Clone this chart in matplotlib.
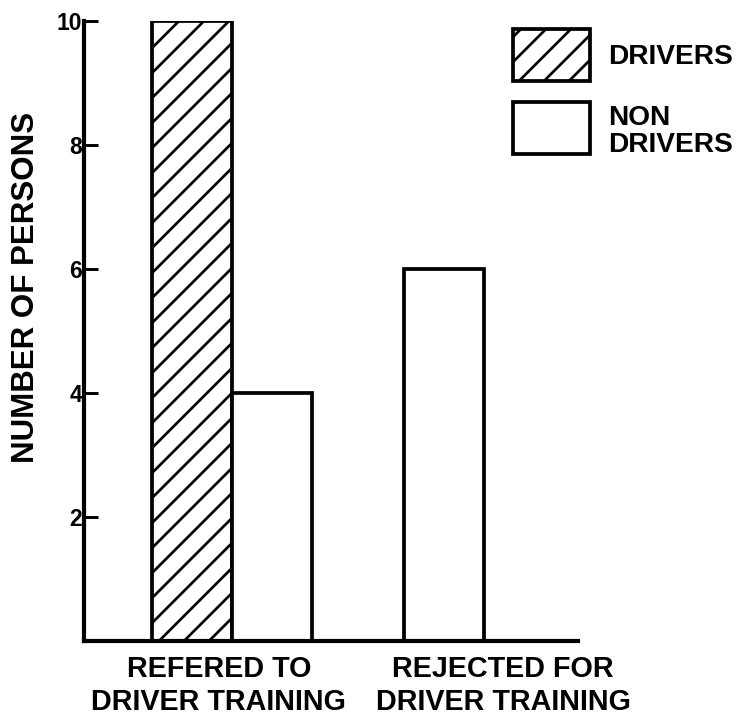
import matplotlib
matplotlib.use("Agg")
import matplotlib.pyplot as plt
import numpy as np

categories = ["REFERED TO\nDRIVER TRAINING", "REJECTED FOR\nDRIVER TRAINING"]
series_names = ["DRIVERS", "NON\nDRIVERS"]
drivers = [10, 0]
non_drivers = [4, 6]
y_ticks = [2, 4, 6, 8, 10]
y_tick_labels = ["2", "4", "6", "8", "10"]
y_label = "NUMBER OF PERSONS"

plt.rcParams['font.family'] = ['Liberation Sans', 'DejaVu Sans']
plt.rcParams['font.weight'] = 'bold'
plt.rcParams['hatch.linewidth'] = 1.3

DPI = 150
fig = plt.figure(figsize=(737 / DPI, 717 / DPI), dpi=DPI)
ax = fig.add_axes([84 / 737, 1 - 641 / 717, (578 - 84) / 737, (641 - 21) / 717])

x = np.arange(len(categories))
w = 0.465
ax.bar(x - w / 2, drivers, width=w, facecolor='white', edgecolor='black',
       linewidth=1.8, hatch='//', label=series_names[0], zorder=2)
ax.bar(x + w / 2, non_drivers, width=w, facecolor='white', edgecolor='black',
       linewidth=1.8, label=series_names[1], zorder=2)

ax.set_xlim(-0.8605, 2.0116)
ax.set_ylim(0, 10)

for s in ['top', 'right']:
    ax.spines[s].set_visible(False)
for s in ['left', 'bottom']:
    ax.spines[s].set_linewidth(2.0)

ax.set_yticks(y_ticks)
ax.set_yticklabels(y_tick_labels, fontsize=11, fontweight='bold')
ax.tick_params(axis='y', direction='in', length=6.5, width=1.4, pad=1)

label_pos = [-0.076, 1.576]
ax.set_xticks(label_pos)
ax.set_xticklabels(categories, fontsize=13.8, fontweight='bold', linespacing=1.22)
ax.tick_params(axis='x', length=0, pad=6.8)

ax.set_ylabel(y_label, fontsize=15, fontweight='bold')
ax.yaxis.set_label_coords(-0.087, 0.571)

leg = fig.legend(loc='upper left', bbox_to_anchor=(513 / 737, 1 - 29 / 717),
                 frameon=False, fontsize=13.5, handlelength=2.75,
                 handleheight=2.47, handletextpad=0.64, labelspacing=0.67,
                 borderpad=0, borderaxespad=0)
for t in leg.get_texts():
    t.set_fontweight('bold')
    t.set_linespacing(1.05)
leg.get_texts()[1].set_y(-5)

fig.savefig("out.png", dpi=DPI)
